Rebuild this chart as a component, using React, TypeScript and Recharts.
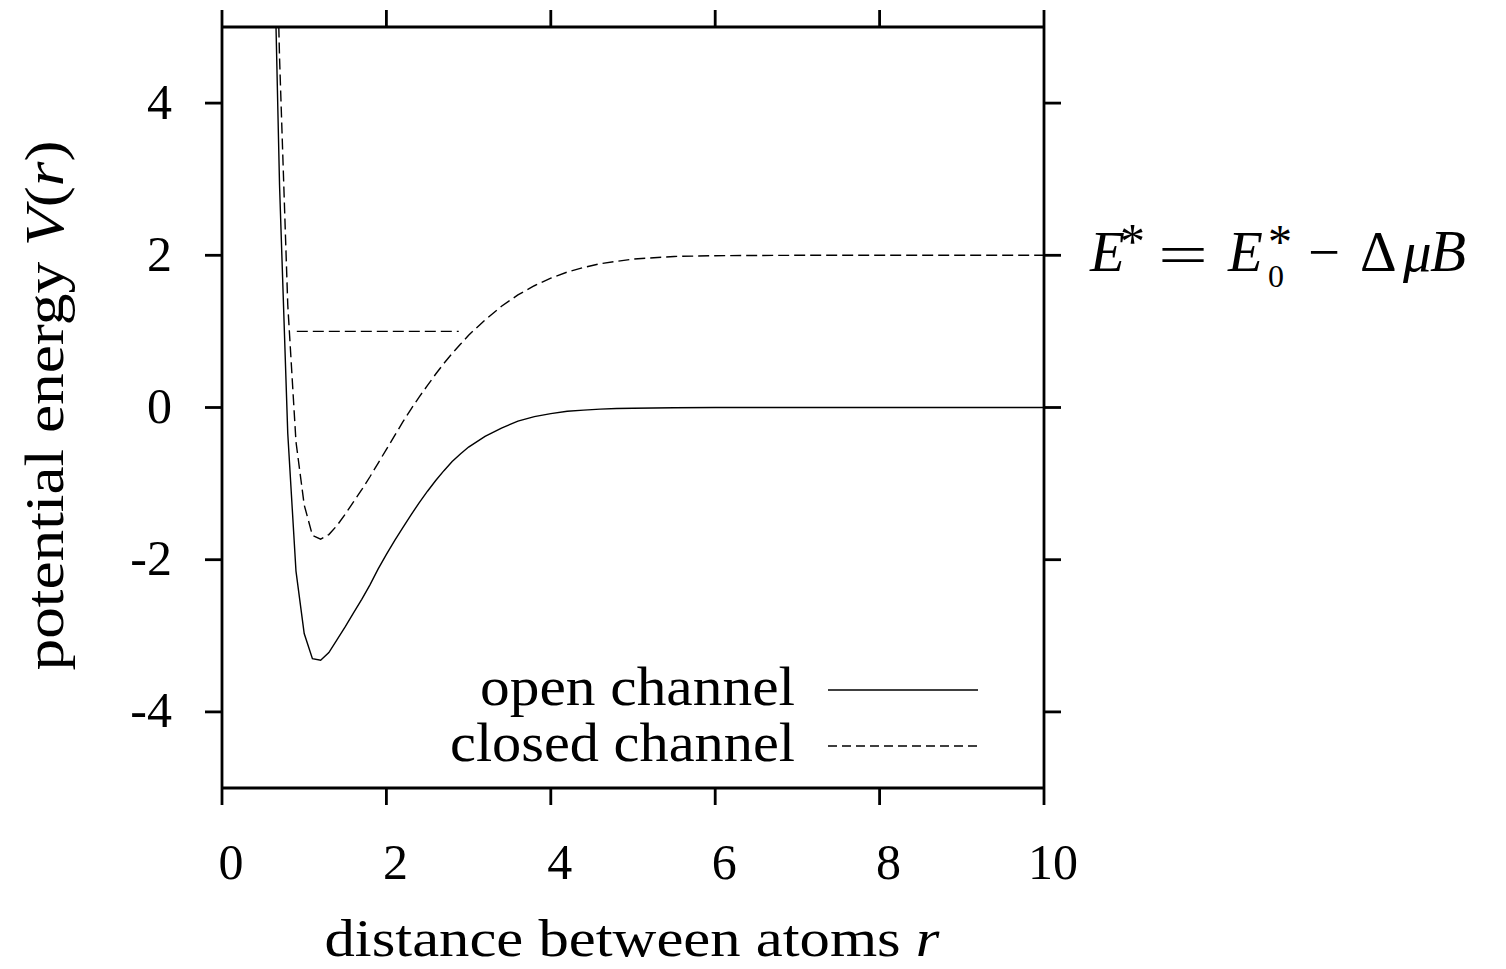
import { LineChart, Line, XAxis, YAxis, ReferenceLine, Legend, Label } from 'recharts'

// sample positions along r and the two potentials
const rValues = [
  0.6, 0.7, 0.8, 0.9, 1.0, 1.1, 1.2, 1.3, 1.4, 1.5, 1.6, 1.7, 1.8, 1.9, 2.0, 2.1, 2.2, 2.3, 2.4, 2.5,
  2.6, 2.7, 2.8, 2.9, 3.0, 3.2, 3.4, 3.6, 3.8, 4.0, 4.2, 4.4, 4.6, 4.8, 5.0, 5.5, 6.0, 7.0, 8.0, 9.0, 10.0,
]
const openChannel = [
  7.76, 2.92, -0.34, -2.15, -2.97, -3.3, -3.32, -3.22, -3.05, -2.88, -2.7, -2.52, -2.33, -2.12, -1.93, -1.75,
  -1.58, -1.41, -1.25, -1.1, -0.96, -0.83, -0.71, -0.61, -0.52, -0.38, -0.27, -0.18, -0.12, -0.08, -0.05,
  -0.035, -0.022, -0.014, -0.009, -0.003, 0, 0, 0, 0, 0,
]
const closedChannel = [
  9.0, 4.6, 1.35, -0.45, -1.28, -1.68, -1.73, -1.67, -1.55, -1.4, -1.24, -1.08, -0.91, -0.73, -0.55, -0.37,
  -0.19, -0.02, 0.14, 0.29, 0.44, 0.58, 0.71, 0.83, 0.95, 1.15, 1.33, 1.48, 1.6, 1.7, 1.78, 1.84, 1.89, 1.92,
  1.95, 1.985, 1.995, 2, 2, 2, 2,
]
const xTicks = [0, 2, 4, 6, 8, 10]
const yTicks = [-4, -2, 0, 2, 4]
// bound state level drawn inside the closed-channel well
const boundLevel = 1
const boundRange = [0.91, 2.88]
const thresholdLevel = 2
const legendOrder = ['open', 'closed']

const data = rValues.map((r, i) => ({ r, open: openChannel[i], closed: closedChannel[i] }))

const FONT = '"Liberation Serif", "Times New Roman", serif'
const axisStyle = { stroke: '#000', strokeWidth: 2.8 }
const DASH = '11 5'

const XTick = ({ x, y, payload }: any) => (
  <text x={x + 9} y={y} dy="0.71em" textAnchor="middle" fontFamily={FONT} fontSize={50} fill="#000">
    {payload.value}
  </text>
)

const YTick = ({ x, y, payload }: any) => (
  <text x={x} y={y} dy="0.31em" textAnchor="end" fontFamily={FONT} fontSize={50} fill="#000">
    {payload.value}
  </text>
)

const NoTick = () => <g />

const renderLegend = (props: any) => {
  const items = [...(props.payload || [])].sort(
    (a: any, b: any) => legendOrder.indexOf(a.dataKey) - legendOrder.indexOf(b.dataKey),
  )
  return (
    <svg width={560} height={130} style={{ display: 'block', overflow: 'visible' }}>
      {items.map((entry: any, i: number) => {
        const cy = 35 + i * 56
        const dashed = entry.dataKey === 'closed'
        return (
          <g key={entry.dataKey}>
            <text
              x={365}
              y={cy + 15}
              textAnchor="end"
              fontFamily={FONT}
              fontSize={54}
              fill="#000"
              textLength={dashed ? 345 : 315}
              lengthAdjust="spacingAndGlyphs"
            >
              {entry.value}
            </text>
            <line
              x1={398}
              x2={548}
              y1={cy}
              y2={cy}
              stroke="#000"
              strokeWidth={1.4}
              strokeDasharray={dashed ? '9 5' : undefined}
            />
          </g>
        )
      })}
    </svg>
  )
}

// E* = E0* − ΔμB, set as one text with placed pieces
const ThresholdLabel = ({ viewBox }: any) => {
  const rx = viewBox.x + viewBox.width
  const ly = viewBox.y + 16
  return (
    <text fontFamily={FONT} fill="#000" fontSize={57}>
      <tspan x={rx + 46} y={ly} fontStyle="italic">E</tspan>
      <tspan x={rx + 76} y={ly - 13} fontSize={50}>*</tspan>
      <tspan x={rx + 114} y={ly + 3} fontSize={56} textLength={50} lengthAdjust="spacingAndGlyphs">=</tspan>
      <tspan x={rx + 184} y={ly} fontStyle="italic">E</tspan>
      <tspan x={rx + 224} y={ly - 13} fontSize={48}>*</tspan>
      <tspan x={rx + 224} y={ly + 16} fontSize={32}>0</tspan>
      <tspan x={rx + 264} y={ly} fontSize={56} textLength={32} lengthAdjust="spacingAndGlyphs">−</tspan>
      <tspan x={rx + 316} y={ly}>Δ</tspan>
      <tspan x={rx + 359} y={ly} fontStyle="italic">μ</tspan>
      <tspan x={rx + 386} y={ly} fontSize={59} fontStyle="italic">B</tspan>
    </text>
  )
}

export default function App() {
  return (
    <LineChart
      width={1490}
      height={961}
      data={data}
      margin={{ top: 18, right: 453, bottom: 31, left: 0 }}
    >
      <XAxis
        type="number"
        dataKey="r"
        domain={[0, 10]}
        ticks={xTicks}
        allowDataOverflow
        height={150}
        tickSize={17}
        tickMargin={38}
        tick={XTick}
        axisLine={axisStyle}
        tickLine={axisStyle}
      >
        <Label
          content={({ viewBox }: any) => (
            <text
              x={viewBox.x + viewBox.width / 2 - 1}
              y={viewBox.y + 168}
              textAnchor="middle"
              fontFamily={FONT}
              fontSize={52}
              fill="#000"
              textLength={615}
              lengthAdjust="spacingAndGlyphs"
            >
              distance between atoms <tspan fontStyle="italic">r</tspan>
            </text>
          )}
        />
      </XAxis>
      <XAxis
        xAxisId="top"
        orientation="top"
        type="number"
        dataKey="r"
        domain={[0, 10]}
        ticks={xTicks}
        allowDataOverflow
        height={1}
        tickSize={17}
        tick={NoTick}
        axisLine={axisStyle}
        tickLine={axisStyle}
      />
      <YAxis
        type="number"
        domain={[-5, 5]}
        ticks={yTicks}
        allowDataOverflow
        width={214}
        tickSize={17}
        tickMargin={33}
        tick={YTick}
        axisLine={axisStyle}
        tickLine={axisStyle}
      >
        <Label
          content={({ viewBox }: any) => {
            const cx = 55
            const cy = viewBox.y + viewBox.height / 2 - 2
            return (
              <text
                x={cx}
                y={cy}
                transform={`rotate(-90 ${cx} ${cy})`}
                textAnchor="middle"
                fontFamily={FONT}
                fontSize={54}
                fill="#000"
                textLength={530}
                lengthAdjust="spacingAndGlyphs"
              >
                potential energy <tspan fontStyle="italic">V</tspan>(<tspan fontStyle="italic">r</tspan>)
              </text>
            )
          }}
        />
      </YAxis>
      <YAxis
        yAxisId="right"
        orientation="right"
        type="number"
        domain={[-5, 5]}
        ticks={yTicks}
        allowDataOverflow
        width={1}
        tickSize={17}
        tick={NoTick}
        axisLine={axisStyle}
        tickLine={axisStyle}
      />
      <ReferenceLine
        segment={[
          { x: boundRange[0], y: boundLevel },
          { x: boundRange[1], y: boundLevel },
        ]}
        stroke="#000"
        strokeWidth={1.4}
        strokeDasharray={DASH}
      />
      <ReferenceLine y={thresholdLevel} stroke="none" label={<ThresholdLabel />} />
      <Line
        type="linear"
        dataKey="open"
        name="open channel"
        stroke="#000"
        strokeWidth={1.4}
        dot={false}
        isAnimationActive={false}
      />
      <Line
        type="linear"
        dataKey="closed"
        name="closed channel"
        stroke="#000"
        strokeWidth={1.4}
        strokeDasharray={DASH}
        dot={false}
        isAnimationActive={false}
      />
      <Legend
        layout="vertical"
        align="center"
        verticalAlign="middle"
        content={renderLegend}
        wrapperStyle={{ position: 'absolute', left: 422, top: 647, width: 560, height: 130 }}
      />
    </LineChart>
  )
}
